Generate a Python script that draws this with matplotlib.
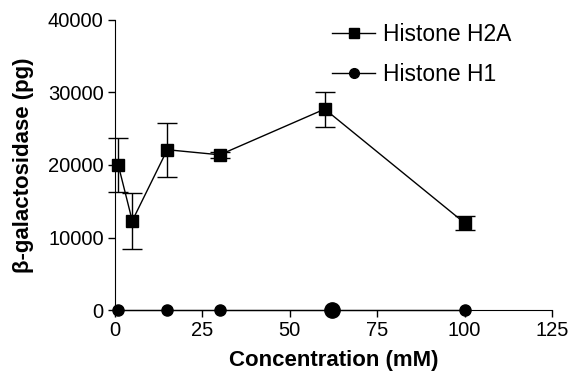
import matplotlib
matplotlib.use("Agg")
import matplotlib.pyplot as plt
from matplotlib.lines import Line2D

plt.rcParams['font.family'] = ['Liberation Sans', 'DejaVu Sans']

conc_h2a = [1, 5, 15, 30, 60, 100]
h2a = [20000, 12300, 22100, 21400, 27700, 12000]
h2a_err = [3700, 3900, 3700, 400, 2400, 1000]

conc_h1 = [1, 15, 30, 62, 100]
h1 = [0, 0, 0, 0, 0]
h1_size = [8, 8, 8, 11, 8]

xticks = [0, 25, 50, 75, 100, 125]
yticks = [0, 10000, 20000, 30000, 40000]

fig = plt.figure(figsize=(5.71, 3.81), dpi=100)
ax = fig.add_axes([0.201, 0.186, 0.766, 0.762])

ax.errorbar(conc_h2a, h2a, yerr=h2a_err, color='black', marker='s', markersize=8,
            linewidth=1, elinewidth=1, capsize=7, capthick=1, clip_on=False)
ax.plot(conc_h1, h1, color='black', linewidth=1, clip_on=False, zorder=4)
for x, y, s in zip(conc_h1, h1, h1_size):
    ax.plot([x], [y], color='black', marker='o', markersize=s, linestyle='none',
            clip_on=False, zorder=5)

ax.set_xlim(0, 125)
ax.set_ylim(0, 40000)
ax.set_xticks(xticks)
ax.set_yticks(yticks)
ax.spines['top'].set_visible(False)
ax.spines['right'].set_visible(False)
ax.tick_params(direction='out', length=5, width=1, labelsize=14.5, pad=3)
ax.set_xlabel('Concentration (mM)', fontsize=16, fontweight='bold', labelpad=7)
ax.set_ylabel('β-galactosidase (pg)', fontsize=16, fontweight='bold', labelpad=10)

handles = [Line2D([], [], color='black', marker='s', markersize=7, linewidth=1),
           Line2D([], [], color='black', marker='o', markersize=7, linewidth=1)]
ax.legend(handles, ['Histone H2A', 'Histone H1'], loc='upper left',
          bbox_to_anchor=(0.581, 0.94), bbox_transform=fig.transFigure,
          borderaxespad=0, borderpad=0, frameon=False, fontsize=16.5,
          handlelength=1.9, handletextpad=0.32, labelspacing=0.75)

fig.savefig('out.png', dpi=100)
